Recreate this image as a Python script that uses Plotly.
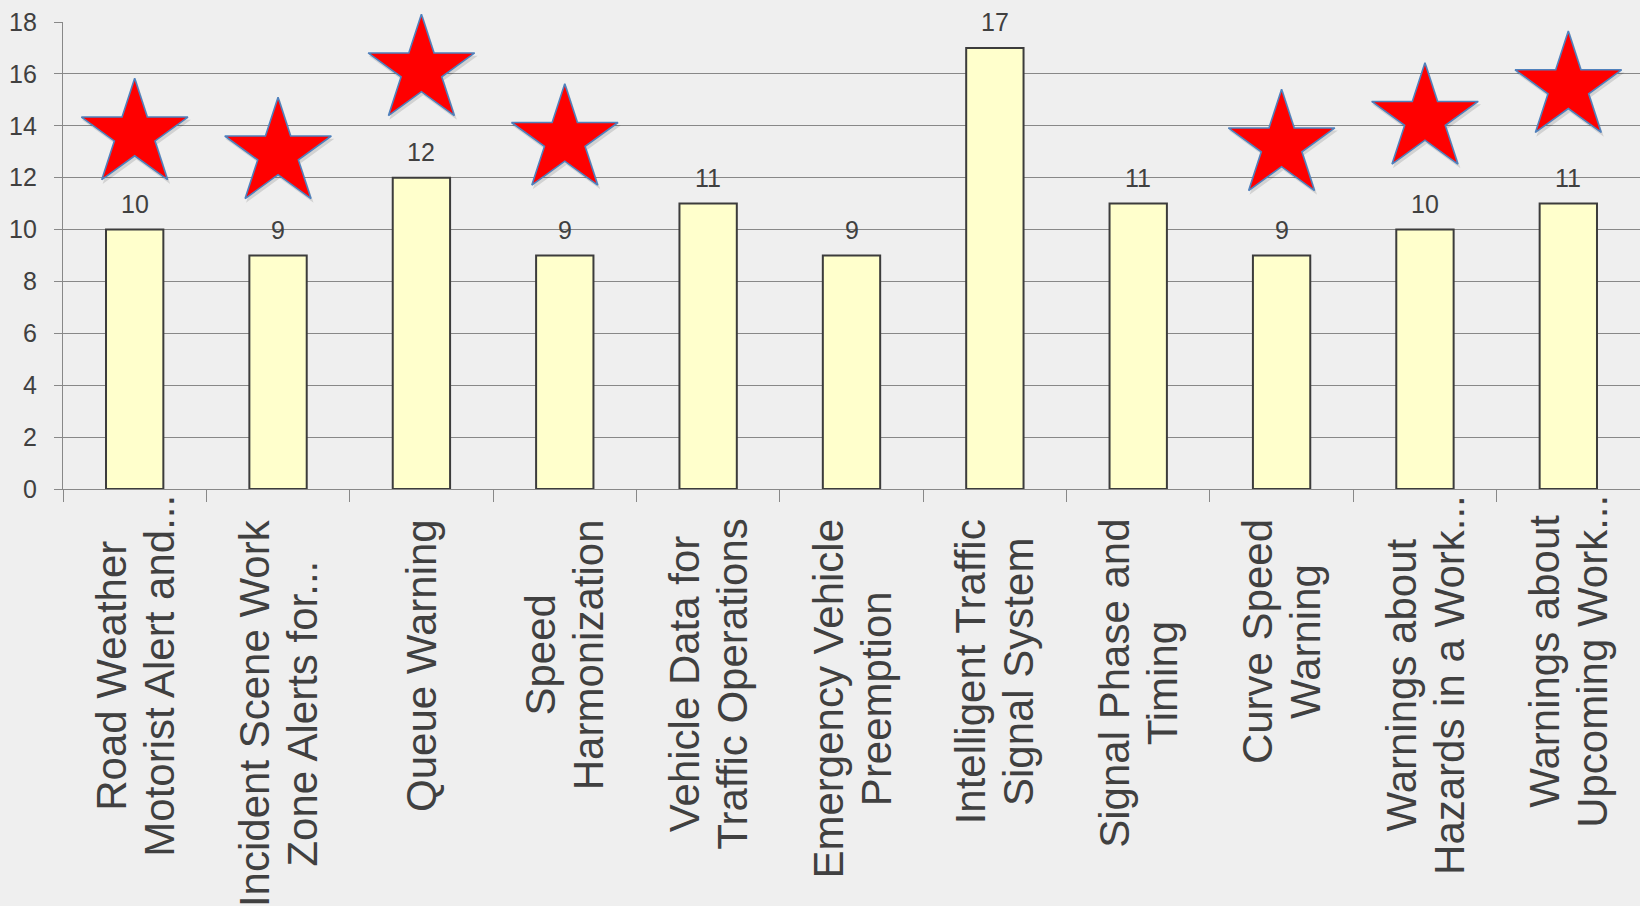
import plotly.graph_objects as go

categories = [
    "Road Weather<br>Motorist Alert and...",
    "Incident Scene Work<br>Zone Alerts for...",
    "Queue Warning",
    "Speed<br>Harmonization",
    "Vehicle Data for<br>Traffic Operations",
    "Emergency Vehicle<br>Preemption",
    "Intelligent Traffic<br>Signal System",
    "Signal Phase and<br>Timing",
    "Curve Speed<br>Warning",
    "Warnings about<br>Hazards in a Work...",
    "Warnings about<br>Upcoming Work...",
]
values = [10, 9, 12, 9, 11, 9, 17, 11, 9, 10, 11]

# starred categories (index) and the vertical position of each star (axis units)
star_idx = [0, 1, 2, 3, 8, 9, 10]
star_y = [13.67, 12.94, 16.14, 13.46, 13.25, 14.27, 15.49]

y_ticks = list(range(0, 19, 2))

FONT = "Liberation Sans, Arial, sans-serif"
TXT = "#404040"
GRID = "#888888"

x = list(range(len(categories)))

fig = go.Figure()
fig.add_trace(go.Bar(
    x=x, y=values, width=0.4,
    marker=dict(color="#FFFFCC", line=dict(color="#3C3C3C", width=2)),
    hoverinfo="skip", showlegend=False,
))
# faint shadow for stars
fig.add_trace(go.Scatter(
    x=[i + 0.012 for i in star_idx], y=[v - 0.12 for v in star_y],
    mode="markers", cliponaxis=False, showlegend=False, hoverinfo="skip",
    marker=dict(symbol="star", size=82, color="rgba(0,0,0,0.12)", line=dict(width=0)),
))
fig.add_trace(go.Scatter(
    x=star_idx, y=star_y, mode="markers", cliponaxis=False, showlegend=False,
    marker=dict(symbol="star", size=80, color="#FF0000",
                line=dict(color="#4F81BD", width=1.6)),
))

annotations = []
for i, v in zip(x, values):
    annotations.append(dict(
        x=i, y=v, xref="x", yref="y", text=str(v), showarrow=False,
        yanchor="bottom", xanchor="center", yshift=10,
        font=dict(family=FONT, size=25, color=TXT),
    ))
for i, lab in zip(x, categories):
    lines = lab.split("<br>")
    longest = max(lines, key=len)
    truncated = longest.endswith("...")
    # glyphs at 42px, line spacing governed by the smaller base font size
    txt = "<br>".join(f"<span style='font-size:42px'>{ln}</span>" for ln in lines)
    annotations.append(dict(
        x=i, y=0, xref="x", yref="paper", text=txt, showarrow=False,
        textangle=-90, align="center", xanchor="center", yanchor="top",
        yshift=-4 if truncated else -28,
        font=dict(family=FONT, size=37, color=TXT),
    ))

fig.update_layout(
    width=1640, height=906,
    margin=dict(l=63, r=0, t=22, b=417, pad=0),
    paper_bgcolor="#EFEFEF", plot_bgcolor="#EFEFEF",
    bargap=0.6,
    annotations=annotations,
    font=dict(family=FONT, color=TXT),
)
fig.update_xaxes(
    range=[-0.5, len(categories) - 0.5],
    tickvals=[i - 0.5 for i in range(len(categories) + 1)],
    showticklabels=False, ticks="outside", ticklen=12, tickcolor=GRID, tickwidth=1.3,
    showgrid=False, zeroline=False, showline=True, linecolor=GRID, linewidth=1.3,
)
fig.update_yaxes(
    range=[0, 18], tickvals=y_ticks,
    showgrid=True, gridcolor=GRID, gridwidth=1.3,
    ticks="outside", ticklen=8, tickcolor=GRID, tickwidth=1.3,
    showline=True, linecolor=GRID, linewidth=1.3, zeroline=False,
    tickfont=dict(family=FONT, size=25, color=TXT), ticklabelstandoff=12,
)

fig.write_html("out.html")
